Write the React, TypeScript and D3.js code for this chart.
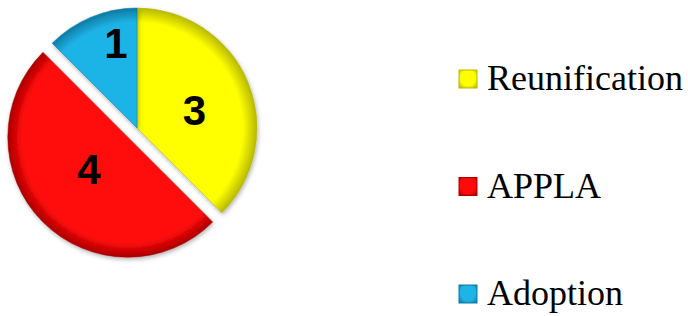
import React from 'react'
import * as d3 from 'd3'

// chart values
const categories = ['Reunification', 'APPLA', 'Adoption']
const values = [3, 4, 1]
const colors = ['#ffff00', '#ff0a0a', '#1fb4e6']
const edgeColors = ['#b8b800', '#a80000', '#0d7aa3']

const WIDTH = 688
const HEIGHT = 316
const SERIF = 'Liberation Serif, Times New Roman, Times, DejaVu Serif, serif'

export default function App() {
  const cx = 137
  const cy = 128
  const radius = 120
  const explode = {APPLA: 13} as Record<string, number>
  // where each number sits: fraction along the slice angle, fraction of radius
  const labelPos = {
    Reunification: [0.54, 0.5],
    APPLA: [0.53, 0.42],
    Adoption: [0.69, 0.73],
  } as Record<string, number[]>

  const pie = d3.pie<number>().sort(null).value(d => d).startAngle(0).endAngle(2 * Math.PI)
  const slices = pie(values)
  const arc = d3.arc<d3.PieArcDatum<number>>().innerRadius(0).outerRadius(radius)

  const legendX = 459
  const legendY = d3.scalePoint<string>().domain(categories).range([79, 294])
  const box = 18

  return <svg width={WIDTH} height={HEIGHT}
    style={{position: 'absolute', left: 0, top: 0, background: '#fff'}}>
    <defs>
      <filter id="shadow" x="-20%" y="-20%" width="140%" height="140%">
        <feDropShadow dx="1" dy="2" stdDeviation="2" floodColor="#000" floodOpacity="0.3" />
      </filter>
      {colors.map((c, i) => <radialGradient key={i} id={`slice${i}`}
        gradientUnits="userSpaceOnUse" cx={0} cy={0} r={radius}>
        <stop offset="0" stopColor={c} />
        <stop offset="0.88" stopColor={c} />
        <stop offset="1" stopColor={edgeColors[i]} />
      </radialGradient>)}
      {colors.map((c, i) => <radialGradient key={i} id={`box${i}`} cx="0.5" cy="0.45" r="0.7">
        <stop offset="0" stopColor={c} />
        <stop offset="0.6" stopColor={c} />
        <stop offset="1" stopColor={edgeColors[i]} />
      </radialGradient>)}
    </defs>

    {slices.map((s, i) => {
      const name = categories[i]
      const mid = (s.startAngle + s.endAngle) / 2
      const off = explode[name] || 0
      const dx = Math.sin(mid) * off
      const dy = -Math.cos(mid) * off
      const [fa, fr] = labelPos[name]
      const la = s.startAngle + (s.endAngle - s.startAngle) * fa
      const lr = radius * fr
      return <g key={name} transform={`translate(${cx + dx},${cy + dy})`}>
        <path d={arc(s) as string} fill={`url(#slice${i})`}
          stroke={edgeColors[i]} strokeOpacity={0.5} strokeWidth={1}
          filter="url(#shadow)" />
        <text x={Math.sin(la) * lr} y={-Math.cos(la) * lr} dy="0.36em"
          textAnchor="middle" style={{fontFamily: 'Liberation Sans, Arial, sans-serif'}}
          fontWeight="bold" fontSize={42} fill="#000">{s.data}</text>
      </g>
    })}

    {categories.map((name, i) => {
      const y = legendY(name) as number
      return <g key={name}>
        <rect x={legendX} y={y - box / 2} width={box} height={box}
          fill={`url(#box${i})`} stroke={edgeColors[i]} strokeWidth={1} />
        <text x={legendX + 28} y={y + 11} style={{fontFamily: SERIF}}
          fontSize={36} fill="#000">{name}</text>
      </g>
    })}
  </svg>
}
